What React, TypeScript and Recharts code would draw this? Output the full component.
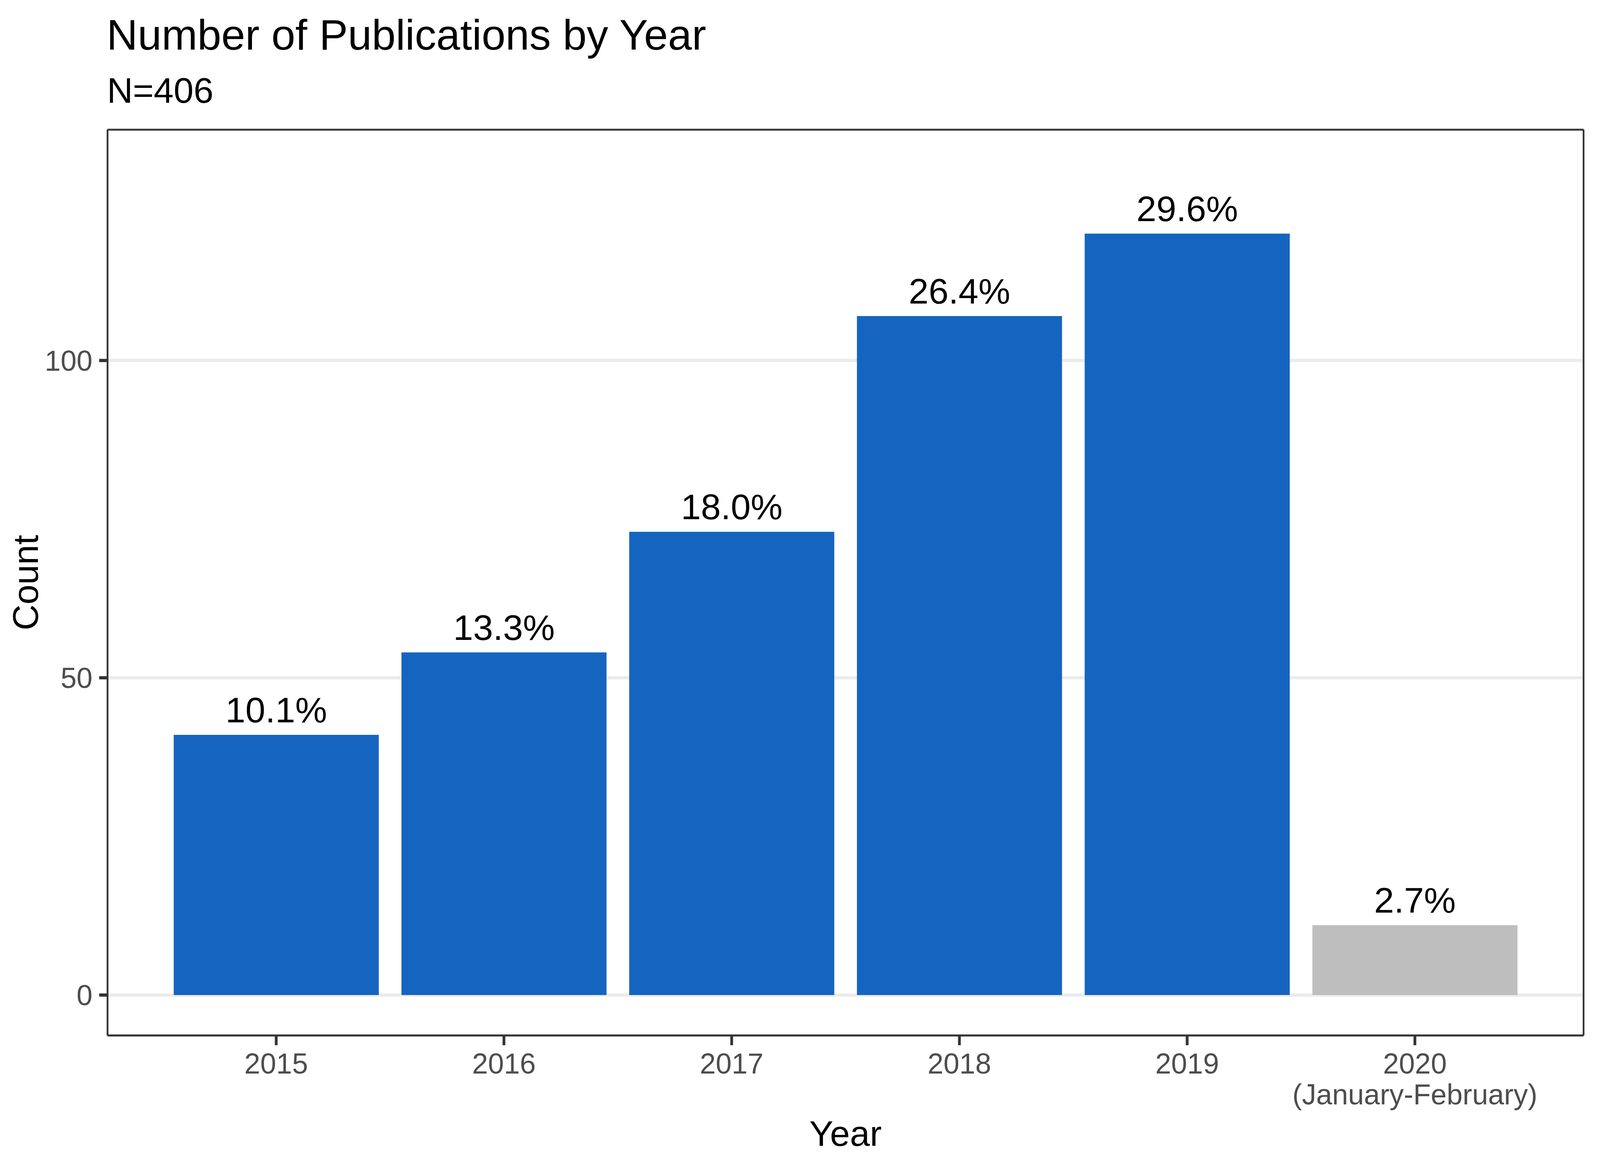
import React from "react";
import {
  BarChart,
  Bar,
  Cell,
  XAxis,
  YAxis,
  CartesianGrid,
  LabelList,
} from "recharts";

const years = ["2015", "2016", "2017", "2018", "2019", "2020"];
const counts = [41, 54, 73, 107, 120, 11];
const yearNotes = ["", "", "", "", "", "(January-February)"];
const partialYear = [false, false, false, false, false, true];
const countTicks = [0, 50, 100];

const total = counts.reduce((a, b) => a + b, 0);

const data = years.map((year, i) => ({
  year,
  count: counts[i],
  partial: partialYear[i],
  share: `${((counts[i] / total) * 100).toFixed(1)}%`,
}));

// the page is 4096 wide, the original is 4800: keep the x layout proportional
const W = 4096;
const H = 3000;
const SX = W / 4800;

const FONT = "'Liberation Sans', Arial, Helvetica, sans-serif";
const BLUE = "#1565C0";
const GREY = "#BEBEBE";
const DARK = "#333333";
const TICK_TEXT = "#4D4D4D";

const PLOT_TOP = 332;
const PLOT_LEFT = 322.6 * SX;
const PLOT_RIGHT = 4750.7 * SX;
const PLOT_BOTTOM = 2650.5;

function YearTick({ x, y, payload }: any) {
  const i = years.indexOf(String(payload.value));
  const note = i >= 0 ? yearNotes[i] : "";
  return (
    <g>
      <text x={x} y={y + 72.5} textAnchor="middle" fill={TICK_TEXT} fontSize={73.3}>
        {payload.value}
      </text>
      {note && (
        <text x={x} y={y + 151.5} textAnchor="middle" fill={TICK_TEXT} fontSize={73.3}>
          {note}
        </text>
      )}
    </g>
  );
}

function BarLabel({ x, y, width, value }: any) {
  return (
    <text
      x={Number(x) + Number(width) / 2}
      y={Number(y) - 32}
      textAnchor="middle"
      fill="#000"
      fontSize={91.67}
    >
      {value}
    </text>
  );
}

// panel frame: lines along the edges of the plotting area
const frameRows = ({ offset }: any) =>
  offset ? [offset.top, offset.top + offset.height] : [PLOT_TOP, PLOT_BOTTOM];
const frameCols = ({ offset }: any) =>
  offset ? [offset.left, offset.left + offset.width] : [PLOT_LEFT, PLOT_RIGHT];

export default function App() {
  return (
    <div
      style={{
        position: "absolute",
        left: 0,
        top: 0,
        width: W,
        height: H,
        background: "#fff",
        fontFamily: FONT,
      }}
    >
      <BarChart
        width={W}
        height={H}
        data={data}
        margin={{ top: PLOT_TOP, right: W - PLOT_RIGHT, left: 0, bottom: 0 }}
        barCategoryGap="5%"
        style={{ fontFamily: FONT }}
      >
        <CartesianGrid
          xAxisId="bottom"
          yAxisId="left"
          vertical={false}
          stroke="#EBEBEB"
          strokeWidth={8.3}
        />
        <CartesianGrid
          xAxisId="bottom"
          yAxisId="left"
          horizontalCoordinatesGenerator={frameRows}
          verticalCoordinatesGenerator={frameCols}
          stroke={DARK}
          strokeWidth={4.4}
        />
        <XAxis
          xAxisId="bottom"
          dataKey="year"
          type="category"
          height={H - PLOT_BOTTOM}
          padding={{ left: 164.4 * SX, right: 164.4 * SX }}
          axisLine={{ stroke: DARK, strokeWidth: 4.4 }}
          tickLine={{ stroke: DARK, strokeWidth: 8.3 * SX }}
          tickSize={25}
          tickMargin={0}
          tick={<YearTick />}
          interval={0}
          label={(props: any) => {
            const vb = props.viewBox;
            return (
              <text
                x={vb.x + vb.width / 2}
                y={vb.y + 282.5}
                textAnchor="middle"
                fill="#000"
                fontSize={91.67}
              >
                Year
              </text>
            );
          }}
        />
        <YAxis
          yAxisId="left"
          type="number"
          domain={[-6.37, 136.37]}
          ticks={countTicks}
          width={PLOT_LEFT}
          axisLine={{ stroke: DARK, strokeWidth: 4.4 * SX }}
          tickLine={{ stroke: DARK, strokeWidth: 8.3 }}
          tickSize={25 * SX}
          tickMargin={20 * SX}
          tick={{ fill: TICK_TEXT, fontSize: 73.3 }}
          label={(props: any) => {
            const vb = props.viewBox;
            const cx = 114 * SX;
            const cy = vb.y + vb.height / 2;
            return (
              <text
                x={cx}
                y={cy}
                transform={`rotate(-90, ${cx}, ${cy})`}
                textAnchor="middle"
                fill="#000"
                fontSize={91.67}
              >
                Count
              </text>
            );
          }}
        />
        <Bar
          xAxisId="bottom"
          yAxisId="left"
          dataKey="count"
          isAnimationActive={false}
        >
          {data.map((d) => (
            <Cell key={d.year} fill={d.partial ? GREY : BLUE} />
          ))}
          <LabelList dataKey="share" content={<BarLabel />} />
        </Bar>
      </BarChart>
      <svg
        width={W}
        height={300}
        style={{ position: "absolute", left: 0, top: 0, pointerEvents: "none" }}
      >
        <text x={320 * SX} y={127} fontSize={110} fill="#000" fontFamily={FONT}>
          Number of Publications by Year
        </text>
        <text x={321 * SX} y={262.7} fontSize={91.67} fill="#000" fontFamily={FONT}>
          {`N=${total}`}
        </text>
      </svg>
    </div>
  );
}
